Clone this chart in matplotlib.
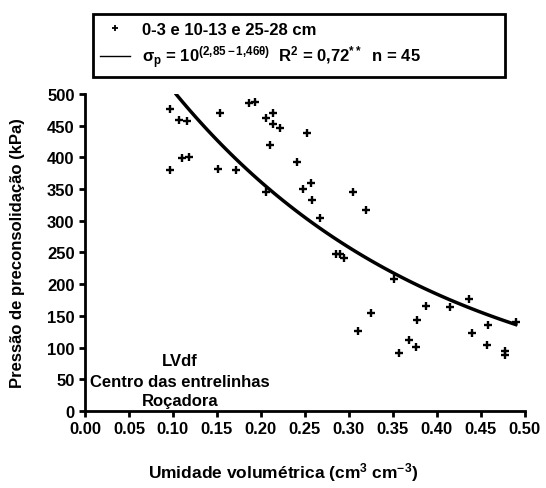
import matplotlib
matplotlib.use("Agg")
import matplotlib.pyplot as plt
import numpy as np

plt.rcParams["font.family"] = ["Liberation Sans", "DejaVu Sans"]
plt.rcParams["font.weight"] = "bold"
plt.rcParams["mathtext.fontset"] = "custom"
plt.rcParams["mathtext.rm"] = "Liberation Sans:bold"
plt.rcParams["mathtext.it"] = "Liberation Sans:bold"
plt.rcParams["mathtext.bf"] = "Liberation Sans:bold"

# volumetric water content (cm3 cm-3) and preconsolidation pressure (kPa)
theta = [0.097, 0.097, 0.107, 0.116, 0.110, 0.118, 0.154, 0.151, 0.172, 0.187,
         0.193, 0.206, 0.2135, 0.214, 0.222, 0.211, 0.206, 0.252, 0.241, 0.2575,
         0.248, 0.2586, 0.267, 0.285, 0.290, 0.2947, 0.305, 0.320, 0.311, 0.325,
         0.351, 0.357, 0.368, 0.3766, 0.378, 0.388, 0.415, 0.437, 0.4406, 0.458,
         0.4577, 0.478, 0.478, 0.490]
sigma = [476, 380, 459, 457, 399, 401, 470, 382, 380, 486,
         488, 462, 470, 452, 446, 420, 345, 438, 393, 360,
         350, 333, 304, 248, 247, 241, 346, 317, 126, 155,
         208, 91, 112, 101, 144, 166, 164.5, 177, 122.5, 135.6,
         104, 94, 89, 141]

# fitted model: sigma_p = 10^(a - b*theta)
a_coef, b_coef = 2.85, 1.46
theta_fit = np.linspace(0.104, 0.49, 100)
sigma_fit = 10 ** (a_coef - b_coef * theta_fit)

fig = plt.figure(figsize=(5.46, 4.89), dpi=100)
ax = fig.add_axes([0.1557, 0.1575, 0.805, 0.6482])

ax.plot(theta, sigma, linestyle="none", marker="+", color="black",
        markersize=5.2, markeredgewidth=1.7,
        label="0-3 e 10-13 e 25-28 cm")
ax.plot(theta_fit, sigma_fit, color="black", linewidth=2.5,
        label=r"$\sigma_p$ = 10$^{(2{,}85 - 1{,}46\theta)}$  R$^2$ = 0,72$^{**}$  n = 45")

ax.set_xlim(0, 0.5)
ax.set_ylim(0, 500)
xt = np.arange(0, 0.501, 0.05)
ax.set_xticks(xt)
ax.set_xticklabels([f"{v:.2f}" for v in xt])
ax.set_yticks(np.arange(0, 501, 50))
ax.tick_params(labelsize=12, width=2, length=4, direction="out")
for lab in ax.get_xticklabels() + ax.get_yticklabels():
    lab.set_fontweight("bold")

ax.spines[["top", "right"]].set_visible(False)
ax.spines[["left", "bottom"]].set_linewidth(2)

ax.set_xlabel(r"Umidade volumétrica (cm$^3$ cm$^{-3}$)", fontsize=12.5,
              fontweight="bold")
ax.xaxis.set_label_coords(0.45, -0.155)
ax.set_ylabel("Pressão de preconsolidação (kPa)", fontsize=12,
              fontweight="bold", labelpad=16)

ax.text(0.108, 79, "LVdf", ha="center", va="center", fontsize=12, fontweight="bold")
ax.text(0.108, 47, "Centro das entrelinhas", ha="center", va="center",
        fontsize=12, fontweight="bold")
ax.text(0.108, 16, "Roçadora", ha="center", va="center", fontsize=12,
        fontweight="bold")

leg = ax.legend(loc="upper left", bbox_to_anchor=(0.170, 0.826, 0.755, 0.143),
                bbox_transform=fig.transFigure, mode="expand", borderaxespad=0,
                fancybox=False, framealpha=1, edgecolor="black",
                handlelength=1.8, handletextpad=0.7, borderpad=0.45,
                labelspacing=0.4, prop={"weight": "bold", "size": 12})
leg.get_frame().set_linewidth(2)
leg.get_lines()[1].set_linewidth(1)
leg.get_lines()[0].set_markersize(4)
leg.get_lines()[0].set_markeredgewidth(1.3)

plt.savefig("out.png", dpi=100, facecolor="white")
